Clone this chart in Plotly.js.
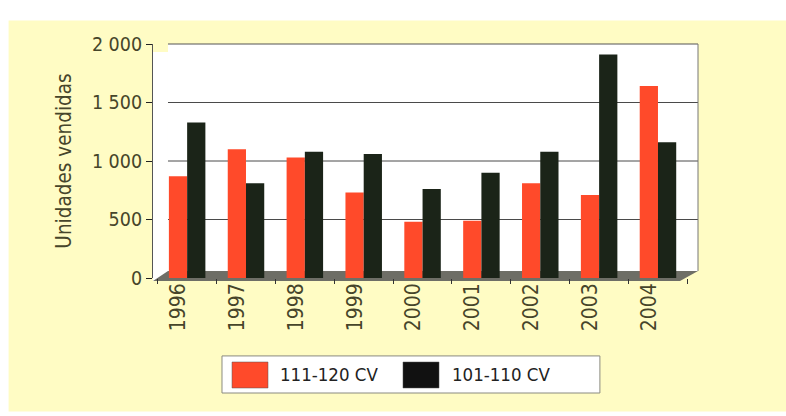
<!DOCTYPE html>
<html>
<head>
<meta charset="utf-8">
<script src="https://cdn.plot.ly/plotly-3.0.1.min.js"></script>
<style>
html,body{margin:0;padding:0;background:#ffffff;}
#wrap{position:absolute;left:0;top:0;width:786px;height:416px;}
#chart{width:786px;height:416px;}
</style>
</head>
<body>
<div id="wrap"><div id="chart"></div></div>
<script>
const years = ["1996","1997","1998","1999","2000","2001","2002","2003","2004"];
const series1Name = "111-120 CV";
const series1 = [870, 1100, 1030, 730, 480, 490, 810, 710, 1640];
const series2Name = "101-110 CV";
const series2 = [1330, 810, 1080, 1060, 760, 900, 1080, 1910, 1160];
const yTickVals = [0, 500, 1000, 1500, 2000];
const yTickText = ["0", "500", "1 000", "1 500", "2 000"];

const FONT = '"DejaVu Sans Condensed", "Liberation Sans Narrow", sans-serif';
const TXT = '#46452a';
const RED = '#ff4a2a';
const BLK = '#1b2418';

const traces = [
  {type:'bar', name:series1Name, x:years, y:series1, marker:{color:RED}, showlegend:false},
  {type:'bar', name:series2Name, x:years, y:series2, marker:{color:BLK}, showlegend:false}
];

const legendItems = [
  {name:series1Name, color:RED, sx0:0.145, sx1:0.211, tx:0.229},
  {name:series2Name, color:'#111111', sx0:0.4587, sx1:0.5248, tx:0.545}
];

const shapes = [
  {type:'rect', xref:'paper', yref:'paper', x0:-0.265, x1:1.2, y0:-0.57, y1:1.10, fillcolor:'#fffcc4', line:{width:0}, layer:'below'},
  {type:'rect', xref:'paper', yref:'paper', x0:0.0275, x1:1, y0:0.0299, y1:1.0, fillcolor:'#ffffff', line:{width:0}, layer:'below'},
  {type:'rect', xref:'paper', yref:'paper', x0:0, x1:0.0275, y0:-0.0128, y1:0.966, fillcolor:'#ffffff', line:{width:0}, layer:'below'},
  {type:'path', xref:'paper', yref:'paper', path:'M 0 -0.0128 L 0.967 -0.0128 L 1 0.0299 L 0.0275 0.0299 Z', fillcolor:'#6e6e66', line:{width:0}, layer:'below'},
  {type:'rect', xref:'paper', yref:'paper', x0:0.1266, x1:0.820, y0:-0.4915, y1:-0.333, fillcolor:'#ffffff', line:{color:'#8a8a80', width:1}}
];
// back-wall gridlines at the tick values
yTickVals.slice(1, -1).forEach(v => {
  shapes.push({type:'line', xref:'paper', yref:'y', x0:0.0275, x1:1, y0:v, y1:v, line:{color:'#4a4a4a', width:1}, layer:'below'});
});
const annotations = [];
legendItems.forEach(it => {
  shapes.push({type:'rect', xref:'paper', yref:'paper', x0:it.sx0, x1:it.sx1, y0:-0.470, y1:-0.359, fillcolor:it.color, line:{color:'#555', width:0.5}});
  annotations.push({xref:'paper', yref:'paper', x:it.tx, y:-0.4145, xanchor:'left', yanchor:'middle', text:it.name, showarrow:false, font:{family:FONT, size:18.5, color:'#222'}});
});

const layout = {
  width:786, height:416,
  margin:{l:153, r:88, t:44, b:138},
  paper_bgcolor:'#ffffff',
  plot_bgcolor:'rgba(0,0,0,0)',
  barmode:'group', bargap:0.38, bargroupgap:0,
  showlegend:false,
  font:{family:FONT, color:TXT, size:20},
  xaxis:{type:'category', range:[-0.58, 8.68], tickangle:-90, ticks:'outside', ticklen:5, tickcolor:'#333',
         tickson:'boundaries', showline:false, showgrid:false, ticklabelshift:-9, tickfont:{size:21, color:TXT}},
  yaxis:{range:[0,2000], tickvals:yTickVals, ticktext:yTickText, ticks:'outside', ticklen:6, tickcolor:'#222',
         showline:true, linecolor:'#555', linewidth:1, showgrid:false,
         zeroline:false, tickfont:{size:19.5, color:TXT},
         title:{text:'Unidades vendidas', font:{size:20.5, color:TXT}, standoff:14}},
  shapes:shapes,
  annotations:annotations
};
layout.shapes.push({type:'line', xref:'paper', yref:'paper', x0:0.0275, x1:1, y0:1.0, y1:1.0, line:{color:'#555', width:1}});
layout.shapes.push({type:'line', xref:'paper', yref:'paper', x0:1, x1:1, y0:0.0299, y1:1.0, line:{color:'#777', width:1}});

Plotly.newPlot('chart', traces, layout, {displayModeBar:false, staticPlot:true});
</script>
</body>
</html>
